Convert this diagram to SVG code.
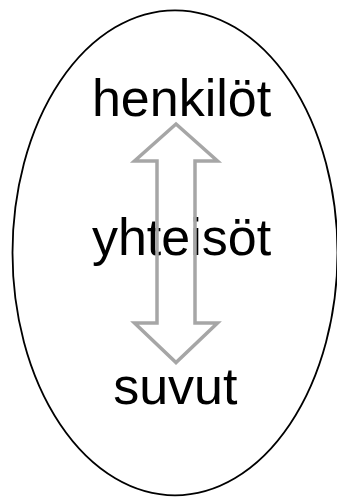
<svg xmlns="http://www.w3.org/2000/svg" width="337" height="497" viewBox="0 0 337 497">
<style>
.lbl{font-family:"Liberation Sans",Arial,sans-serif;font-size:52px;fill:#000;text-anchor:middle}
.arrow{fill:none;stroke:#a6a6a6;stroke-width:3.5;stroke-linejoin:miter}
</style>
<rect width="337" height="497" fill="#fff"/>
<g id="ellipse">
<ellipse cx="175" cy="252.8" rx="162.5" ry="242.5" fill="none" stroke="#000" stroke-width="1.8"/>
</g>
<g id="henkilot"><text class="lbl" x="181.5" y="116">henkilöt</text></g>
<g id="yhteisot"><text class="lbl" x="181.5" y="255">yhteisöt</text></g>
<g id="suvut"><text class="lbl" x="175.3" y="404">suvut</text></g>
<g id="connectors">
<path class="arrow" d="M176,124 L217.5,161 L195,161 L195,323 L217.5,323 L176,362.5 L134.5,323 L157,323 L157,161 L134.5,161 Z"/>
</g>
</svg>
